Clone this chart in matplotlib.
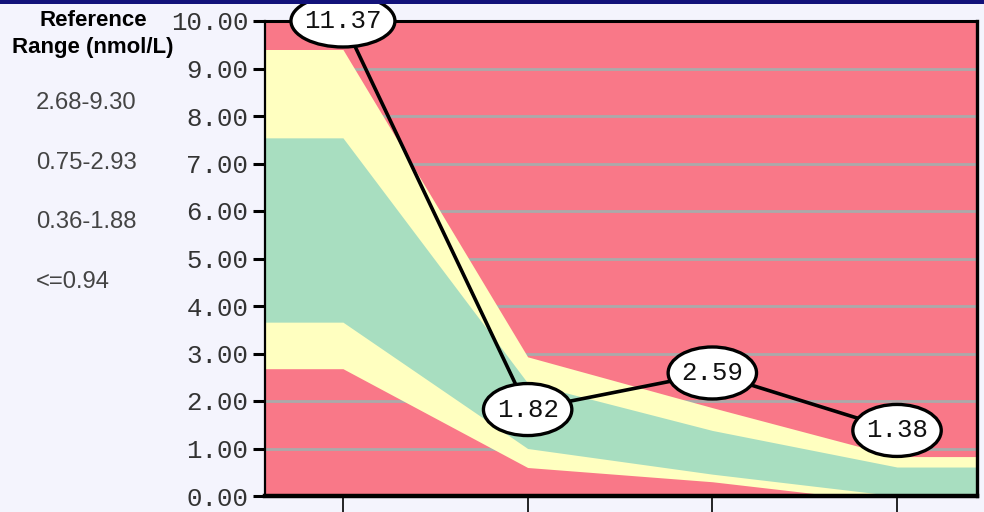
#!/usr/bin/python3
# -*- coding: utf-8 -*-

# reference range chart with ellipse value labels

import numpy as np
import matplotlib
matplotlib.use('Agg')
import matplotlib.pyplot as plt
import matplotlib.transforms as mtransforms
from matplotlib.patches import Rectangle, Ellipse

# data
visits = [0, 1, 2, 3]
values = [11.37, 1.82, 2.59, 1.38]
outer_low = [2.68, 0.60, 0.30, -0.15]
outer_high = [9.40, 2.93, 1.86, 0.83]
inner_low = [3.66, 1.00, 0.46, 0.00]
inner_high = [7.54, 2.38, 1.38, 0.61]
range_texts = ['2.68-9.30', '0.75-2.93', '0.36-1.88', '<=0.94']
y_ticks = [0, 1, 2, 3, 4, 5, 6, 7, 8, 9, 10]

RED = '#F97888'
YELLOW = '#FFFFC0'
GREEN = '#A8DEC0'
BG = '#F4F4FD'


def extend(xlim, ys):
    # flat band from the axis edge to the first/last point
    xs = np.concatenate([[xlim[0]], visits, [xlim[1]]])
    yy = np.concatenate([[ys[0]], ys, [ys[-1]]])
    return xs, yy


def main():
    fig = plt.figure(figsize=(9.84, 5.12), dpi=100, facecolor=BG)
    ax = fig.add_axes([265 / 984, 1 - 496 / 512, 712 / 984, 475 / 512])

    xlim = (-0.422, 3.433)
    ymax = y_ticks[-1]
    ax.set_xlim(*xlim)
    ax.set_ylim(0, ymax)
    ax.set_facecolor(RED)

    # bands
    xs, lo = extend(xlim, outer_low)
    _, hi = extend(xlim, outer_high)
    ax.fill_between(xs, lo, hi, color=YELLOW, linewidth=0, zorder=1)
    xs, lo = extend(xlim, inner_low)
    _, hi = extend(xlim, inner_high)
    ax.fill_between(xs, lo, hi, color=GREEN, linewidth=0, zorder=2)

    # grid
    ax.set_axisbelow(True)
    ax.yaxis.grid(True, color='#AAAAAA', linewidth=2)
    ax.set_yticks(y_ticks)
    ax.set_yticklabels(['%.2f' % v for v in y_ticks],
                       family='Liberation Mono', fontsize=18.5, color='#333333')
    ax.tick_params(axis='y', length=9, width=2.2, pad=3, color='black')
    ax.set_xticks(visits)
    ax.set_xticklabels([])
    ax.tick_params(axis='x', length=14, width=1.2, pad=2, color='black')

    for side, lw in [('top', 2.2), ('left', 1.6), ('right', 2.4), ('bottom', 3.2)]:
        ax.spines[side].set_linewidth(lw)
        ax.spines[side].set_color('black')
        ax.spines[side].set_zorder(5)

    # result line (clipped at the top of the axis)
    plot_y = np.minimum(values, ymax)
    ax.plot(visits, plot_y, color='black', linewidth=2.6, zorder=6, clip_on=False)
    for x, y, v in zip(visits, plot_y, values):
        label = '%.2f' % v
        # ellipse with a fixed size in inches, centred on the point
        trans = fig.dpi_scale_trans + mtransforms.ScaledTranslation(x, y, ax.transData)
        w = (len(label) * 15.6 + 26) / 100
        ax.add_patch(Ellipse((0, 0), w, 0.52, transform=trans, facecolor='white',
                             edgecolor='black', linewidth=2.4, zorder=7, clip_on=False))
        ax.text(x, y, label, family='Liberation Mono', fontsize=18.5, color='#111111',
                ha='center', va='center', zorder=8, clip_on=False)

    # left legend text
    fig.text(93 / 984, 1 - 20 / 512, 'Reference', family='Liberation Sans',
             fontweight='bold', fontsize=16, ha='center', va='center')
    fig.text(93 / 984, 1 - 48 / 512, 'Range (nmol/L)', family='Liberation Sans',
             fontweight='bold', fontsize=16, ha='center', va='center')
    for i, t in enumerate(range_texts):
        fig.text(36 / 984, 1 - (103 + 59.6 * i) / 512, t, family='Liberation Sans',
                 fontsize=17.2, ha='left', va='center', color='#444444')

    # top bar
    fig.patches.append(Rectangle((0, 1 - 4 / 512), 1, 4 / 512, transform=fig.transFigure,
                                 facecolor='#12127A', edgecolor='none'))

    fig.savefig('out.png', dpi=100, facecolor=BG)


if __name__ == '__main__':
    main()
